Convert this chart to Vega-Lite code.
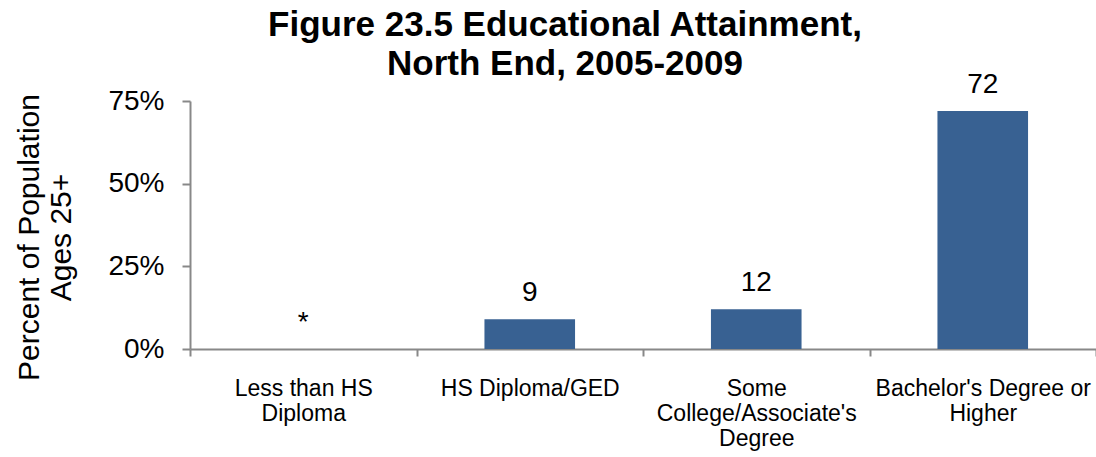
{
  "$schema": "https://vega.github.io/schema/vega-lite/v6.json",
  "width": 906,
  "height": 248,
  "autosize": "none",
  "padding": {"left": 190, "top": 101, "right": 0, "bottom": 108},
  "background": "white",
  "config": {"view": {"stroke": null}, "font": "Liberation Sans"},
  "title": {
    "text": ["Figure 23.5 Educational Attainment,", "North End, 2005-2009"],
    "fontSize": 35,
    "fontWeight": "bold",
    "font": "Liberation Sans",
    "color": "black",
    "lineHeight": 39,
    "anchor": "middle",
    "dx": -78,
    "dy": 37,
    "offset": 26
  },
  "data": {
    "values": [
      {"category": "Less than HS Diploma", "value": 0, "label": "*"},
      {"category": "HS Diploma/GED", "value": 9, "label": "9"},
      {"category": "Some College/Associate's Degree", "value": 12, "label": "12"},
      {"category": "Bachelor's Degree or Higher", "value": 72, "label": "72"}
    ]
  },
  "encoding": {
    "x": {
      "field": "category",
      "type": "nominal",
      "sort": null,
      "scale": {"paddingInner": 0, "paddingOuter": 0},
      "axis": {
        "title": null,
        "labelAngle": 0,
        "labelFontSize": 23,
        "labelColor": "black",
        "labelLineHeight": 25,
        "labelPadding": 21,
        "labelBaseline": "top",
        "labelLimit": 0,
        "domainColor": "#888888",
        "domainWidth": 2,
        "tickColor": "#888888",
        "tickWidth": 2,
        "tickSize": 7,
        "tickBand": "extent",
        "labelExpr": "datum.value == 'Less than HS Diploma' ? ['Less than HS', 'Diploma'] : datum.value == 'Some College/Associate\\'s Degree' ? ['Some', 'College/Associate\\'s', 'Degree'] : datum.value == 'Bachelor\\'s Degree or Higher' ? ['Bachelor\\'s Degree or', 'Higher'] : datum.value"
      }
    },
    "y": {
      "field": "value",
      "type": "quantitative",
      "scale": {"domain": [0, 75], "nice": false},
      "axis": {
        "title": ["Percent of Population", "Ages 25+"],
        "titleFontSize": 30,
        "titleFontWeight": "normal",
        "titleColor": "black",
        "titleLineHeight": 32,
        "titlePadding": 31,
        "titleY": 136,
        "values": [0, 25, 50, 75],
        "labelExpr": "datum.value + '%'",
        "labelFontSize": 28,
        "labelColor": "black",
        "labelPadding": 18,
        "grid": false,
        "domainColor": "#888888",
        "domainWidth": 2,
        "tickColor": "#888888",
        "tickWidth": 2,
        "tickSize": 8
      }
    }
  },
  "layer": [
    {
      "mark": {"type": "bar", "color": "#386192", "width": {"band": 0.4}}
    },
    {
      "mark": {"type": "text", "fontSize": 28, "baseline": "alphabetic", "dy": -18, "color": "black"},
      "encoding": {"text": {"field": "label"}}
    }
  ]
}
